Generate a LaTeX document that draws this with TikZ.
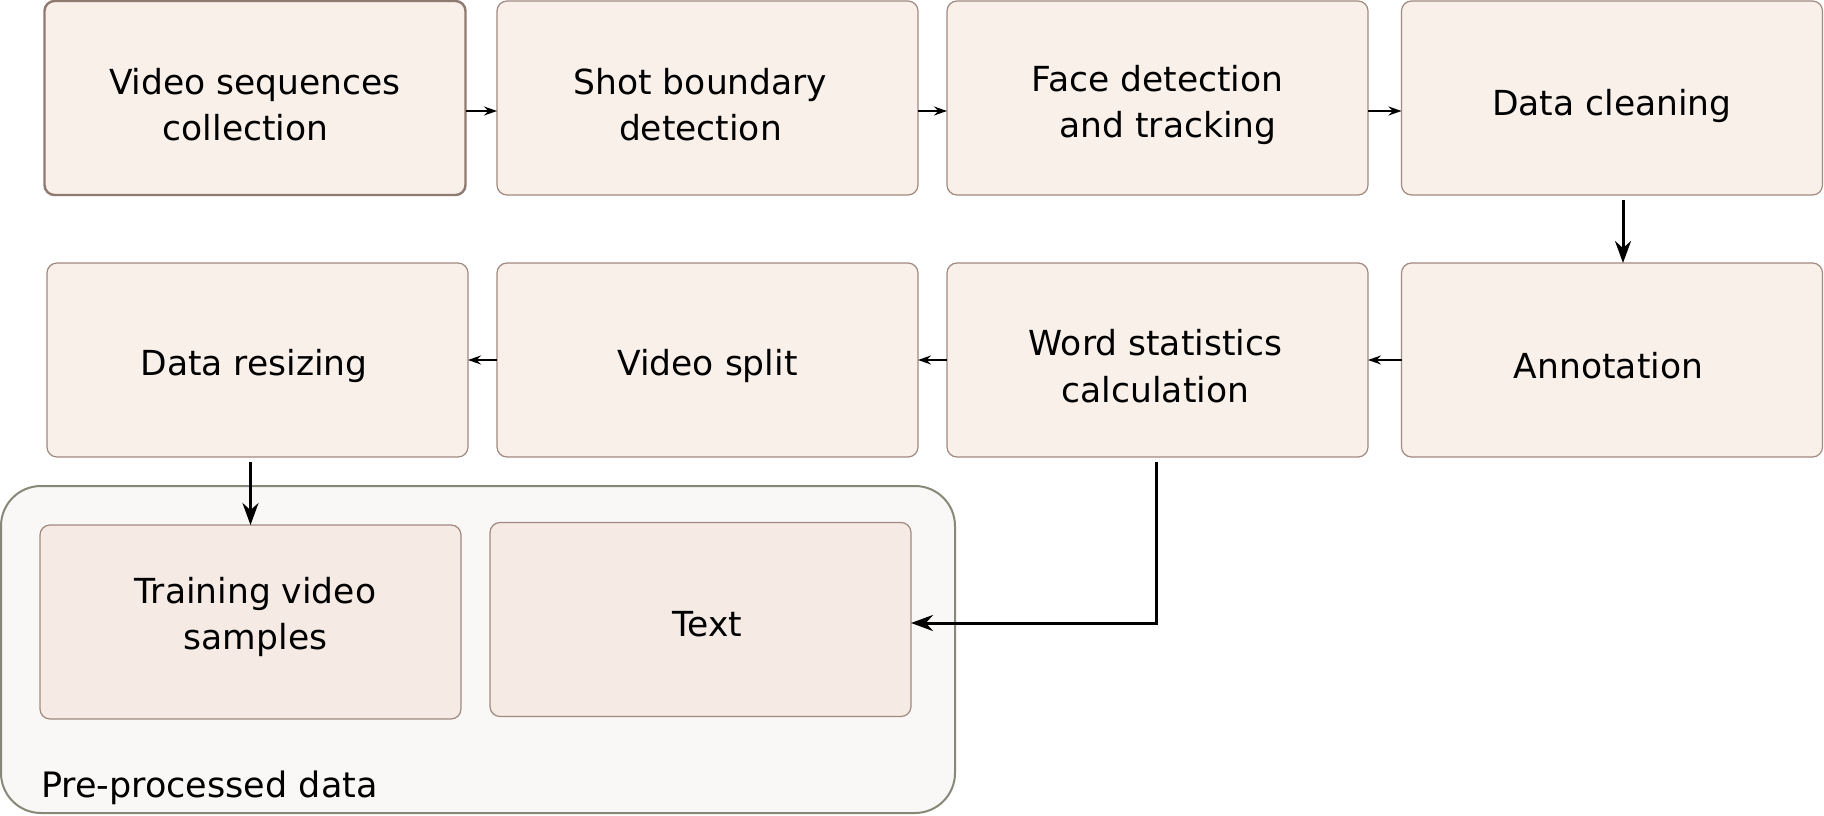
\documentclass[tikz,border=0pt]{standalone}
\usepackage{fontspec}
\setmainfont{DejaVu Sans}
\usetikzlibrary{arrows.meta}
\definecolor{boxfill}{HTML}{F9F0EA}
\definecolor{boxline}{HTML}{A08A80}
\definecolor{selline}{HTML}{8E7A70}
\definecolor{contfill}{HTML}{F9F8F6}
\definecolor{contline}{HTML}{888878}
\definecolor{innerfill}{HTML}{F5EAE4}
\tikzset{
  stepbox/.style={draw=boxline, fill=boxfill, line width=1.2pt, rounded corners=10pt,
    minimum width=421pt, minimum height=194pt, inner sep=0pt, outer sep=0pt},
  innerbox/.style={stepbox, fill=innerfill},
  boxtext/.style={inner sep=0pt, align=center, font=\fontsize{34.5}{46.5}\selectfont},
  thinarrow/.style={-{Stealth[length=13pt,width=9pt]}, line width=1.6pt},
  thickarrow/.style={-{Stealth[length=22pt,width=16pt]}, line width=3pt},
}
\begin{document}
\begin{tikzpicture}[x=1pt,y=-1pt]
\useasboundingbox (0,0) rectangle (1824,816);
% container
\node[draw=contline, fill=contfill, line width=2pt, rounded corners=40pt,
  minimum width=954pt, minimum height=327pt, inner sep=0pt] (cont) at (478,649.5) {};
\node[anchor=base west, font=\fontsize{35}{40}\selectfont, inner sep=0pt] (pre) at (41,797) {Pre-processed data};
% top row
\node[stepbox, draw=selline, line width=2.4pt] (vsc) at (255,98) {};
\node[stepbox] (sbd) at (707.5,98) {};
\node[stepbox] (fdt) at (1157.5,98) {};
\node[stepbox] (dcl) at (1612,98) {};
% second row
\node[stepbox] (drs) at (257.5,360) {};
\node[stepbox] (vsp) at (707.5,360) {};
\node[stepbox] (wsc) at (1157.5,360) {};
\node[stepbox] (ann) at (1612,360) {};
% inner boxes
\node[innerbox] (tvs) at (250.5,622) {};
\node[innerbox] (txt) at (700.5,619.5) {};
% texts
\node[boxtext] (vsc-t) at ([yshift=-6.5pt]vsc.center) {Video sequences\\\hspace*{-19pt}collection};
\node[boxtext] (sbd-t) at ([xshift=-7pt,yshift=-6.5pt]sbd.center) {Shot boundary\\detection};
\node[boxtext] (fdt-t) at ([yshift=-7pt]fdt.center) {Face detection\\\hspace*{21pt}and tracking};
\node[boxtext] (dcl-t) at ([yshift=-8pt]dcl.center) {Data cleaning};
\node[boxtext] (drs-t) at ([xshift=-3.5pt,yshift=-6pt]drs.center) {Data resizing};
\node[boxtext] (vsp-t) at ([yshift=-6pt]vsp.center) {Video split};
\node[boxtext] (wsc-t) at ([xshift=-2pt,yshift=-6pt]wsc.center) {Word statistics\\calculation};
\node[boxtext] (ann-t) at ([xshift=-3.5pt,yshift=-6pt]ann.center) {Annotation};
\node[boxtext] (tvs-t) at ([xshift=5pt,yshift=5pt]tvs.center) {Training video\\samples};
\node[boxtext] (txt-t) at ([xshift=7pt,yshift=-5pt]txt.center) {Text};
% arrows
\draw[thinarrow] ([yshift=-13pt]vsc.east) -- ([yshift=-13pt]sbd.west);
\draw[thinarrow] ([yshift=-13pt]sbd.east) -- ([yshift=-13pt]fdt.west);
\draw[thinarrow] ([yshift=-13pt]fdt.east) -- ([yshift=-13pt]dcl.west);
\draw[thickarrow] ([xshift=11pt,yshift=-5pt]dcl.south) -- ([xshift=11pt]ann.north);
\draw[thinarrow] (ann.west) -- (wsc.east);
\draw[thinarrow] (wsc.west) -- (vsp.east);
\draw[thinarrow] (vsp.west) -- (drs.east);
\coordinate (drsout) at ([yshift=-5pt]drs.south -| tvs.north);
\draw[thickarrow] (drsout) -- (tvs.north);
\coordinate (wscout) at ([xshift=-1.5pt,yshift=-5pt]wsc.south);
\draw[thickarrow] (wscout) |- ([yshift=-3.5pt]txt.east);
\end{tikzpicture}
\end{document}
